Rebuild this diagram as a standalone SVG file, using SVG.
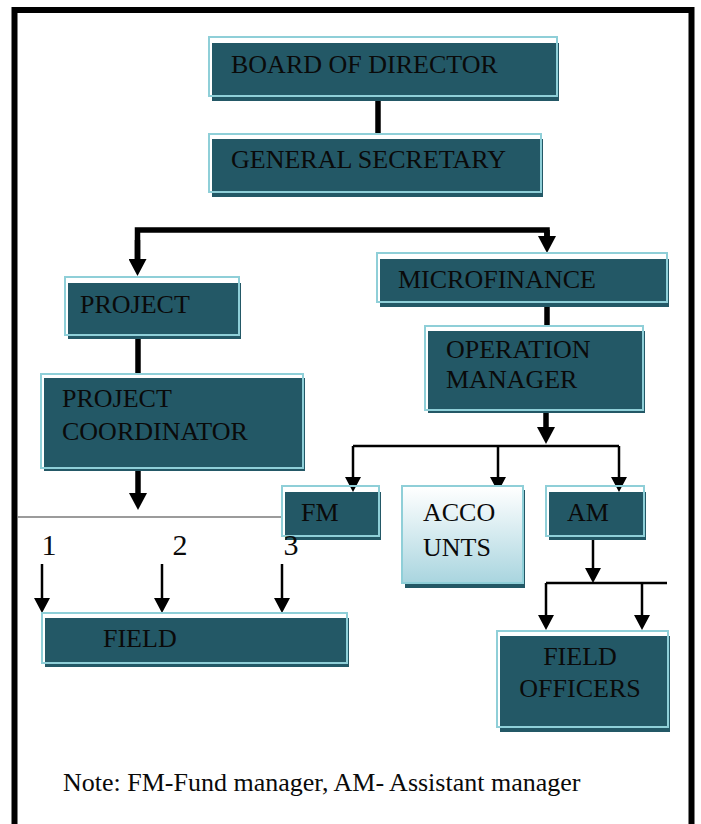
<svg xmlns="http://www.w3.org/2000/svg" width="701" height="824" viewBox="0 0 701 824">
  <defs>
    <style>
      .fill { fill: #235866; }
      .edge { fill: none; stroke: #8fcfd8; stroke-width: 2; }
      text { font-family: 'Liberation Serif', 'Times New Roman', Times, 'DejaVu Serif', serif; font-size: 26px; fill: #0a0a0a; }
      .num { font-size: 30px; text-anchor: middle; }
      .mid { text-anchor: middle; }
      .thick { fill: none; stroke: #000; stroke-width: 5.5; }
      .thin { fill: none; stroke: #000; stroke-width: 2.5; }
    </style>
    <linearGradient id="acc" x1="0" y1="0" x2="0" y2="1">
      <stop offset="0" stop-color="#ffffff"/>
      <stop offset="1" stop-color="#a9d5df"/>
    </linearGradient>
    <marker id="headThick" viewBox="0 0 17 18" refX="0" refY="9" markerWidth="17" markerHeight="18" markerUnits="userSpaceOnUse" orient="auto">
      <path d="M0,0 L17,9 L0,18 z" fill="#000"/>
    </marker>
    <marker id="headThin" viewBox="0 0 15 16" refX="0" refY="8" markerWidth="15" markerHeight="16" markerUnits="userSpaceOnUse" orient="auto">
      <path d="M0,0 L15,8 L0,16 z" fill="#000"/>
    </marker>
  </defs>

  <rect x="0" y="0" width="701" height="824" fill="#fff"/>

  <!-- outer frame -->
  <path d="M14.5,824 V10 H691.5 V824" fill="none" stroke="#000" stroke-width="6"/>

  <g id="connectors">
    <line x1="378" y1="86" x2="378" y2="134" class="thick"/>
    <path d="M137.5,259 V230 H547 V236" class="thick"/>
    <line x1="137.5" y1="240" x2="137.5" y2="259" class="thick" marker-end="url(#headThick)"/>
    <line x1="547" y1="230" x2="547" y2="236" class="thick" marker-end="url(#headThick)"/>
    <line x1="138" y1="326" x2="138" y2="374" class="thick" stroke-width="6"/>
    <line x1="547" y1="303" x2="547" y2="326" class="thick" stroke-width="6"/>
    <line x1="546" y1="398" x2="546" y2="427" class="thick" marker-end="url(#headThick)"/>
    <line x1="138" y1="465" x2="138" y2="493" class="thick" marker-end="url(#headThick)"/>

    <line x1="353" y1="446" x2="619" y2="446" class="thin" stroke-width="2"/>
    <line x1="353" y1="446" x2="353" y2="477" class="thin" marker-end="url(#headThin)"/>
    <line x1="498" y1="446" x2="498" y2="477" class="thin" marker-end="url(#headThin)"/>
    <line x1="619" y1="446" x2="619" y2="477" class="thin" marker-end="url(#headThin)"/>

    <line x1="17" y1="517" x2="283" y2="517" stroke="#7a7a7a" stroke-width="1.3"/>

    <line x1="42" y1="564" x2="42" y2="598" class="thin" marker-end="url(#headThin)"/>
    <line x1="162" y1="564" x2="162" y2="598" class="thin" marker-end="url(#headThin)"/>
    <line x1="282" y1="564" x2="282" y2="598" class="thin" marker-end="url(#headThin)"/>

    <line x1="593" y1="540" x2="593" y2="568" class="thin" marker-end="url(#headThin)"/>
    <line x1="546" y1="583" x2="667" y2="583" class="thin"/>
    <line x1="546" y1="583" x2="546" y2="615" class="thin" marker-end="url(#headThin)"/>
    <line x1="642" y1="583" x2="642" y2="615" class="thin" marker-end="url(#headThin)"/>
  </g>

  <g id="board">
    <rect x="212" y="43" width="347" height="58" class="fill"/>
    <rect x="209" y="37" width="348" height="59" class="edge"/>
    <text x="231" y="73" font-family="Liberation Serif, serif">BOARD OF DIRECTOR</text>
  </g>

  <g id="general-secretary">
    <rect x="212" y="139" width="331" height="58" class="fill"/>
    <rect x="209" y="134" width="332" height="58" class="edge"/>
    <text x="231" y="168" font-family="Liberation Serif, serif">GENERAL SECRETARY</text>
  </g>

  <g id="project">
    <rect x="68" y="283" width="173" height="56" class="fill"/>
    <rect x="65" y="277" width="174" height="58" class="edge"/>
    <text x="80" y="313" font-family="Liberation Serif, serif">PROJECT</text>
  </g>

  <g id="microfinance">
    <rect x="380" y="259" width="289" height="48" class="fill"/>
    <rect x="377" y="253" width="290" height="49" class="edge"/>
    <text x="398" y="288" font-family="Liberation Serif, serif">MICROFINANCE</text>
  </g>

  <g id="operation-manager">
    <rect x="428" y="331" width="217" height="82" class="fill"/>
    <rect x="425" y="326" width="218" height="84" class="edge"/>
    <text x="446" y="358" font-family="Liberation Serif, serif">OPERATION</text>
    <text x="446" y="388" font-family="Liberation Serif, serif">MANAGER</text>
  </g>

  <g id="project-coordinator">
    <rect x="44" y="378" width="261" height="93" class="fill"/>
    <rect x="41" y="374" width="262" height="94" class="edge"/>
    <text x="62" y="407" font-family="Liberation Serif, serif">PROJECT</text>
    <text x="62" y="440" font-family="Liberation Serif, serif">COORDINATOR</text>
  </g>

  <g id="fm">
    <rect x="285" y="492" width="96" height="48" class="fill"/>
    <rect x="282" y="486" width="97" height="50" class="edge"/>
    <text x="301" y="521" font-family="Liberation Serif, serif">FM</text>
  </g>

  <g id="accounts">
    <rect x="405" y="490" width="120" height="98" class="fill"/>
    <rect x="403" y="487" width="120" height="96" fill="url(#acc)"/>
    <rect x="402" y="486" width="121" height="97" class="edge"/>
    <text x="423" y="521" font-family="Liberation Serif, serif">ACCO</text>
    <text x="423" y="556" font-family="Liberation Serif, serif">UNTS</text>
  </g>

  <g id="am">
    <rect x="549" y="492" width="97" height="48" class="fill"/>
    <rect x="546" y="486" width="98" height="50" class="edge"/>
    <text x="567" y="521" font-family="Liberation Serif, serif">AM</text>
  </g>

  <g id="numbers">
    <text x="49" y="555" class="num" font-family="Liberation Serif, serif">1</text>
    <text x="180" y="555" class="num" font-family="Liberation Serif, serif">2</text>
    <text x="291" y="555" class="num" font-family="Liberation Serif, serif">3</text>
  </g>

  <g id="field">
    <rect x="45" y="618" width="304" height="49" class="fill"/>
    <rect x="42" y="613" width="305" height="50" class="edge"/>
    <text x="103" y="647" font-family="Liberation Serif, serif">FIELD</text>
  </g>

  <g id="field-officers">
    <rect x="500" y="636" width="170" height="96" class="fill"/>
    <rect x="497" y="631" width="171" height="96" class="edge"/>
    <text x="580" y="665" class="mid" font-family="Liberation Serif, serif">FIELD</text>
    <text x="580" y="697" class="mid" font-family="Liberation Serif, serif">OFFICERS</text>
  </g>

  <g id="note">
    <text x="63" y="791" font-family="Liberation Serif, serif">Note: FM-Fund manager, AM- Assistant manager</text>
  </g>
</svg>
